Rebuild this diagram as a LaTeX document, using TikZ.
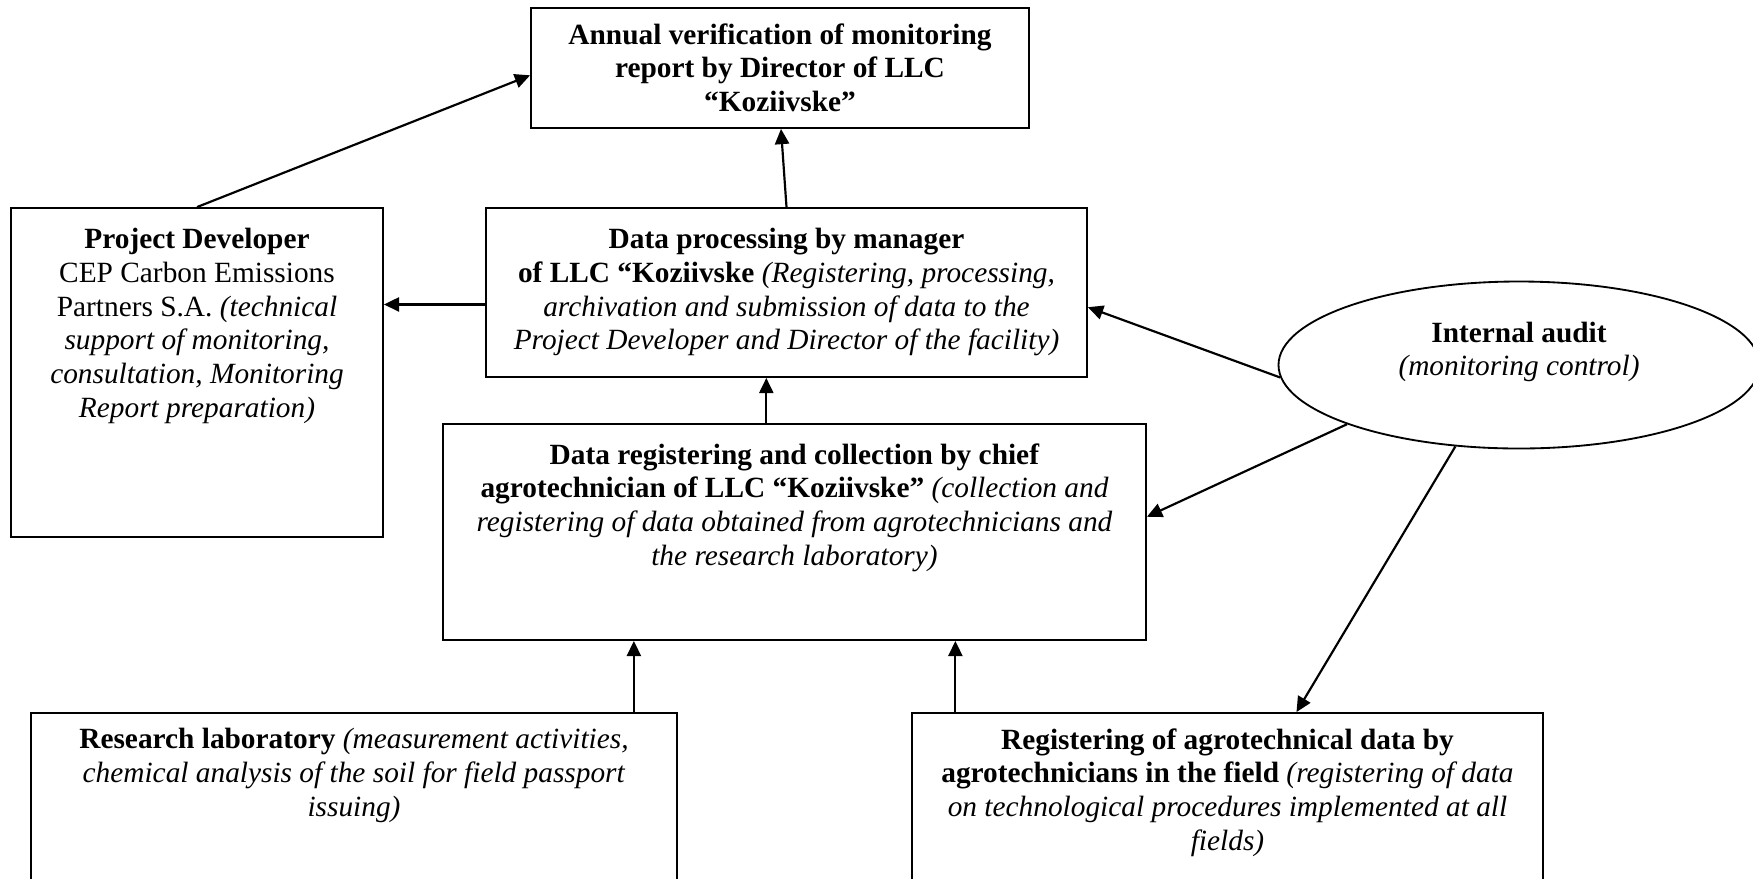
\documentclass[tikz,border=0pt]{standalone}
\usepackage{fontspec}
\setmainfont{Liberation Serif}
\usetikzlibrary{arrows.meta,calc,shapes.geometric}
\newcommand{\PX}{0.46pt}
\begin{document}
\begin{tikzpicture}[x=0.46pt,y=-0.46pt,
  box/.style={draw, line width=0.85pt, rectangle, inner sep=0pt},
  lbl/.style={anchor=north, align=center, inner sep=0pt, font=\fontsize{13.5}{15.5}\selectfont},
  conn/.style={line width=1pt, -{Triangle[length=7pt,width=6.5pt]}}]
\useasboundingbox (0,0) rectangle (1753,878);
\clip (0,0) rectangle (1753,878);
% boxes
\node[box, minimum width={498*\PX}, minimum height={120*\PX}] (top) at (780,68) {};
\node[box, minimum width={372*\PX}, minimum height={329*\PX}] (pd) at (197,372.5) {};
\node[box, minimum width={601*\PX}, minimum height={169*\PX}] (dp) at (786.5,292.5) {};
\node[box, minimum width={703*\PX}, minimum height={216*\PX}] (dr) at (794.5,532) {};
\node[box, minimum width={646*\PX}, minimum height={220*\PX}] (rl) at (354,823) {};
\node[box, minimum width={631*\PX}, minimum height={220*\PX}] (ra) at (1227.5,823) {};
\node[draw, ellipse, line width=0.85pt, minimum width={481*\PX}, minimum height={167*\PX}, inner sep=0pt] (au) at (1519,365) {};
% texts
\node[lbl] (toptext) at (780,23) {\textbf{Annual verification of monitoring}\\\textbf{report by Director of LLC}\\\textbf{“Koziivske”}};
\node[lbl] (pdtext) at (197,228) {\textbf{Project Developer}\\CEP Carbon Emissions\\Partners S.A. \textit{(technical}\\\textit{support of monitoring,}\\\textit{consultation, Monitoring}\\\textit{Report preparation)}};
\node[lbl] (dptext) at (786.5,228) {\textbf{Data processing by manager}\\\textbf{of LLC “Koziivske} \textit{(Registering, processing,}\\\textit{archivation and submission of data to the}\\\textit{Project Developer and Director of the facility)}};
\node[lbl] (drtext) at (794.5,443) {\textbf{Data registering and collection by chief}\\\textbf{agrotechnician of LLC “Koziivske”} \textit{(collection and}\\\textit{registering of data obtained from agrotechnicians and}\\\textit{the research laboratory)}};
\node[lbl] (rltext) at (354,728) {\textbf{Research laboratory} \textit{(measurement activities,}\\\textit{chemical analysis of the soil for field passport}\\\textit{issuing)}};
\node[lbl] (ratext) at (1227.5,728) {\textbf{Registering of agrotechnical data by}\\\textbf{agrotechnicians in the field} \textit{(registering of data}\\\textit{on technological procedures implemented at all}\\\textit{fields)}};
\node[align=center, inner sep=0pt, font=\fontsize{13.5}{15.5}\selectfont] (autext) at (1519,352) {\textbf{Internal audit}\\\textit{(monitoring control)}};
% connectors
\draw[conn] (pd.north) -- ($(top.north west)!0.56!(top.south west)$);
\draw[conn] (dp.north) -- ($(top.south west)!0.502!(top.south east)$);
\coordinate (dpw) at ($(dp.north west)!0.57!(dp.south west)$);
\draw[conn] (dpw) -- (dpw -| pd.east);
\coordinate (drt) at ($(dr.north west)!0.46!(dr.north east)$);
\draw[conn] (drt) -- (drt |- dp.south);
\draw[conn] (au.183) -- ($(dp.north east)!0.586!(dp.south east)$);
\draw[conn] (au.199) -- ($(dr.north east)!0.43!(dr.south east)$);
\draw[conn] (au.232) -- ($(ra.north west)!0.609!(ra.north east)$);
\coordinate (rlt) at ($(rl.north west)!0.932!(rl.north east)$);
\draw[conn] (rlt) -- (rlt |- dr.south);
\coordinate (rat) at ($(ra.north west)!0.07!(ra.north east)$);
\draw[conn] (rat) -- (rat |- dr.south);
\end{tikzpicture}
\end{document}
